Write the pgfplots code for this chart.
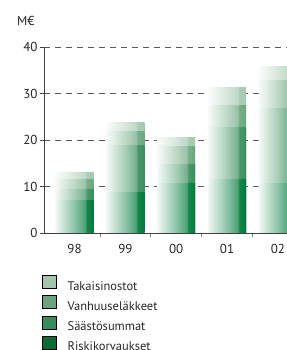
\documentclass[border=0pt]{standalone}
\usepackage{pgfplots}
\usepackage{pgfplotstable}
\pgfplotsset{compat=1.18}
\usepackage{fontspec}
\setmainfont{PT Sans}
\definecolor{cR}{RGB}{0,122,60}
\definecolor{cS}{RGB}{58,143,94}
\definecolor{cV}{RGB}{108,168,128}
\definecolor{cT}{RGB}{164,200,174}
\definecolor{lR}{RGB}{11,107,52}
\definecolor{lS}{RGB}{58,138,91}
\definecolor{lV}{RGB}{106,164,124}
\definecolor{lT}{RGB}{163,198,173}
\newcommand\mkshade[1]{%
  \pgfdeclarehorizontalshading{sh#1}{100bp}{%
    color(0bp)=(#1!5!white); color(25bp)=(#1!5!white);
    color(50bp)=(#1!45!white); color(64bp)=(#1!70!white);
    color(66bp)=(#1!92!white); color(75bp)=(#1); color(100bp)=(#1)}}
\mkshade{cR}\mkshade{cS}\mkshade{cV}\mkshade{cT}
% cumulative heights (M EUR): R = Riskikorvaukset, S = + Saastosummat, V = + Vanhuuselakkeet, T = + Takaisinostot
\pgfplotstableread{
x  R     S     V     T
0  6.9   9.4   11.5  13.0
1  8.75  18.9  21.9  23.8
2  10.7  14.8  18.6  20.6
3  11.5  22.6  27.5  31.3
4  10.7  26.7  32.8  35.8
}\data
\begin{document}
\begin{tikzpicture}
\useasboundingbox (0,0) rectangle (287bp,350bp);
\begin{axis}[
  at={(44bp,117bp)}, anchor=south west,
  scale only axis, width=243bp, height=186bp,
  xmin=-0.6, xmax=4.18, ymin=0, ymax=40,
  ybar, bar width=38bp, bar shift=0pt,
  axis lines*=left,
  axis line style={black!75, line width=0.9pt},
  ytick={0,10,20,30,40},
  xtick={0,1,2,3,4},
  xticklabels={98,99,00,01,02},
  minor xtick={0.5,1.5,2.5,3.5},
  major x tick style={draw=none},
  minor x tick style={black!50, line width=0.8pt},
  minor tick length=4bp,
  ytick style={black!75, line width=0.8pt},
  major tick length=4bp,
  ytick align=outside, ytick pos=left,
  ymajorgrids,
  grid style={black!65, dash pattern=on 6bp off 5bp, line width=0.6pt},
  tick label style={font=\fontsize{13bp}{15bp}\selectfont, text=black!85},
  /pgf/number format/assume math mode=true,
  xticklabel style={yshift=-4bp},
  yticklabel style={xshift=1bp},
  legend style={at={(axis description cs:-0.008,-0.226)}, anchor=north west,
    draw=none, fill=none, inner sep=0pt, row sep=1.9bp,
    font=\fontsize{12.5bp}{14bp}\selectfont, text=black!85,
    cells={anchor=west},
    /tikz/every odd column/.append style={column sep=9bp}},
  legend image code/.code={\fill[#1] (0bp,-2bp) rectangle (14bp,11bp);},
]
\pgfplotsinvokeforeach{0,1,2,3,4}{
  \addplot[draw=none, shading=shcT, forget plot, restrict x to domain=#1:#1] table[x=x, y=T] {\data};
  \addplot[draw=none, shading=shcV, forget plot, restrict x to domain=#1:#1] table[x=x, y=V] {\data};
  \addplot[draw=none, shading=shcS, forget plot, restrict x to domain=#1:#1] table[x=x, y=S] {\data};
  \addplot[draw=none, shading=shcR, forget plot, restrict x to domain=#1:#1] table[x=x, y=R] {\data};
}
\addlegendimage{fill=lT}
\addlegendentry{Takaisinostot}
\addlegendimage{fill=lV}
\addlegendentry{Vanhuuseläkkeet}
\addlegendimage{fill=lS}
\addlegendentry{Säästösummat}
\addlegendimage{fill=lR}
\addlegendentry{Riskikorvaukset}
\end{axis}
\node[anchor=west, inner sep=0pt, font=\fontsize{13bp}{15bp}\selectfont, text=black!85] at (17bp,329bp) {M€};
\end{tikzpicture}
\end{document}
